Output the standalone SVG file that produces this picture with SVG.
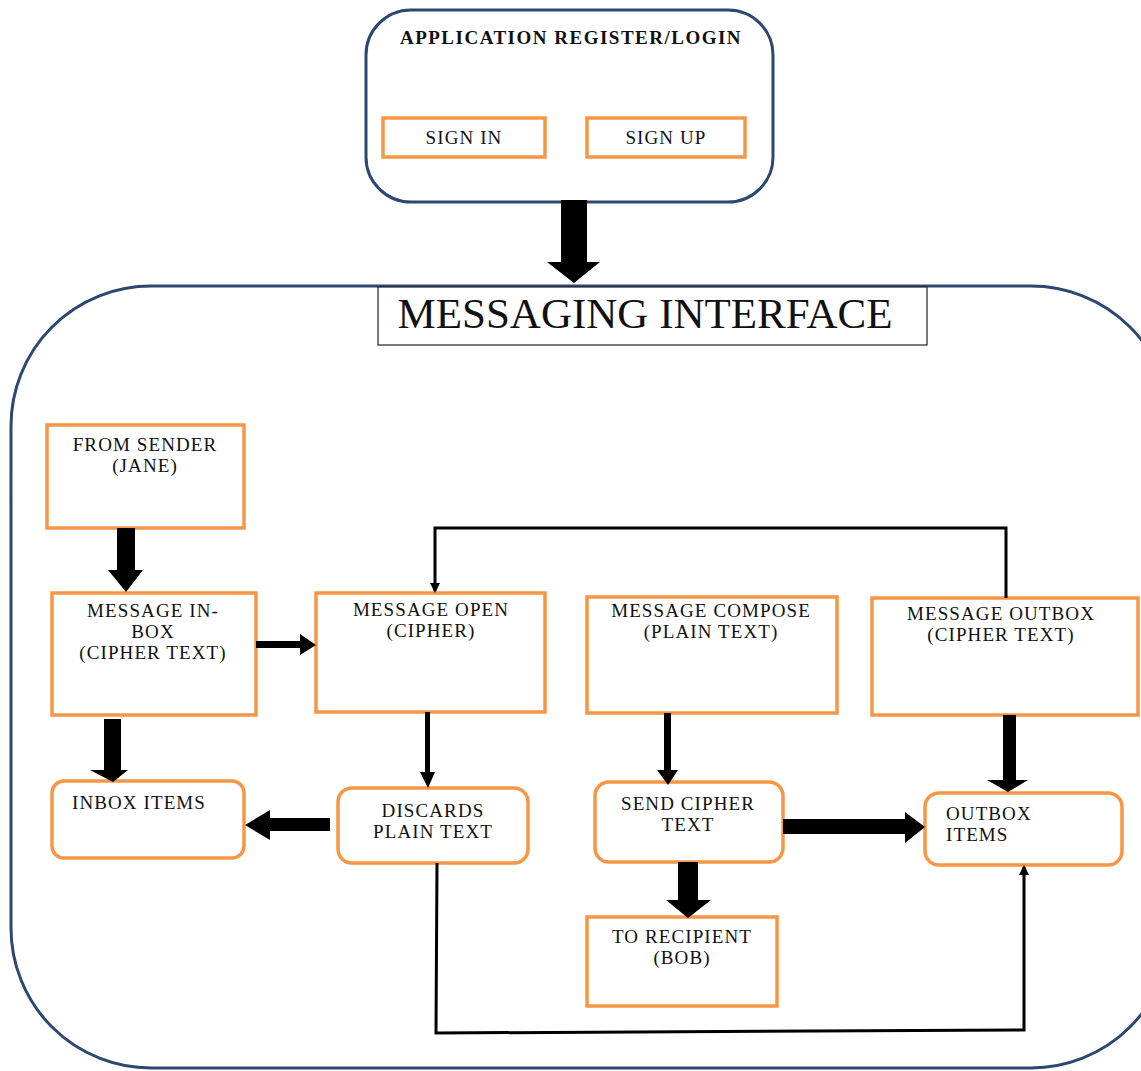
<svg xmlns="http://www.w3.org/2000/svg" width="1141" height="1071" viewBox="0 0 1141 1071">
<style>
.frame{fill:#fff;stroke:#2c4770;stroke-width:3}
.box{fill:#fff;stroke:#f79646;stroke-width:3.5}
.t{font-family:"Liberation Serif","Times New Roman",serif;font-size:19px;letter-spacing:1.1px;fill:#111;text-anchor:middle}
.tl{font-family:"Liberation Serif","Times New Roman",serif;font-size:19px;letter-spacing:1.1px;fill:#111}
.thin{fill:none;stroke:#000;stroke-width:3}
</style>
<defs>
<marker id="ah" markerWidth="10" markerHeight="10" refX="8" refY="5" orient="auto" markerUnits="userSpaceOnUse">
<path d="M0,0 L10,5 L0,10 Z" fill="#000"/>
</marker>
</defs>
<rect width="1141" height="1071" fill="#fff"/>

<g id="messaging-frame">
<rect class="frame" x="11" y="286" width="1160" height="782" rx="140" ry="140"/>
</g>

<g id="login">
<rect class="frame" x="366" y="10" width="407" height="192" rx="45" ry="45"/>
<text x="571" y="44" class="t" font-weight="bold" style="letter-spacing:1.5px">APPLICATION REGISTER/LOGIN</text>
</g>
<g id="signin">
<rect class="box" x="383" y="118" width="162" height="39"/>
<text x="464" y="144" class="t">SIGN IN</text>
</g>
<g id="signup">
<rect class="box" x="587" y="118" width="158" height="39"/>
<text x="666" y="144" class="t">SIGN UP</text>
</g>

<g id="title">
<rect x="378" y="287" width="549" height="58" fill="#fff" stroke="#222" stroke-width="1.2"/>
<text x="645" y="328" class="t" style="font-size:43px;letter-spacing:0">MESSAGING INTERFACE</text>
</g>

<g id="from-sender">
<rect class="box" x="47" y="425" width="197" height="103"/>
<text x="145" y="451" class="t">FROM SENDER</text>
<text x="145" y="472" class="t">(JANE)</text>
</g>
<g id="inbox">
<rect class="box" x="52" y="593" width="204" height="122"/>
<text x="153" y="617" class="t">MESSAGE IN-</text>
<text x="153" y="638" class="t">BOX</text>
<text x="153" y="659" class="t">(CIPHER TEXT)</text>
</g>
<g id="open">
<rect class="box" x="316" y="593" width="229" height="119"/>
<text x="431" y="616" class="t">MESSAGE OPEN</text>
<text x="431" y="637" class="t">(CIPHER)</text>
</g>
<g id="compose">
<rect class="box" x="587" y="597" width="250" height="116"/>
<text x="711" y="617" class="t">MESSAGE COMPOSE</text>
<text x="711" y="638" class="t">(PLAIN TEXT)</text>
</g>
<g id="outbox">
<rect class="box" x="872" y="598" width="266" height="117"/>
<text x="1001" y="620" class="t">MESSAGE OUTBOX</text>
<text x="1001" y="641" class="t">(CIPHER TEXT)</text>
</g>
<g id="inbox-items">
<rect class="box" x="52" y="781" width="192" height="77" rx="12" ry="12"/>
<text x="72" y="809" class="tl">INBOX ITEMS</text>
</g>
<g id="discards">
<rect class="box" x="338" y="788" width="190" height="75" rx="14" ry="14"/>
<text x="433" y="817" class="t">DISCARDS</text>
<text x="433" y="838" class="t">PLAIN TEXT</text>
</g>
<g id="send">
<rect class="box" x="595" y="782" width="188" height="80" rx="14" ry="14"/>
<text x="688" y="810" class="t">SEND CIPHER</text>
<text x="688" y="831" class="t">TEXT</text>
</g>
<g id="outbox-items">
<rect class="box" x="925" y="793" width="197" height="72" rx="14" ry="14"/>
<text x="946" y="820" class="tl">OUTBOX</text>
<text x="946" y="841" class="tl">ITEMS</text>
</g>
<g id="recipient">
<rect class="box" x="587" y="917" width="190" height="89"/>
<text x="682" y="943" class="t">TO RECIPIENT</text>
<text x="682" y="964" class="t">(BOB)</text>
</g>

<g id="connectors" fill="#000">
<polygon points="561,200 587,200 587,262 600,262 574,283 547,262 561,262"/>
<polygon points="117,528 135,528 135,570 143,570 126,592 108,570 117,570"/>
<polygon points="256,641 300,641 300,634 316,645 300,655 300,648 256,648"/>
<polygon points="104,719 121,719 121,770 128,770 113,782 90,770 104,770"/>
<polygon points="425,712 430,712 430,772 435,772 428,788 420,772 425,772"/>
<polygon points="330,818 330,831 270,831 270,840 245,825 270,810 270,818"/>
<polygon points="664,713 671,713 671,770 678,770 668,785 657,770 664,770"/>
<polygon points="783,819 905,819 905,812 925,827 905,843 905,834 783,834"/>
<polygon points="1003,715 1016,715 1016,780 1028,780 1008,792 987,780 1003,780"/>
<polygon points="678,862 698,862 698,900 711,900 688,918 666,900 678,900"/>
<path class="thin" d="M1006,598 L1006,528 L435,528 L435,591" marker-end="url(#ah)"/>
<path class="thin" d="M437,863 L436,1033 L1024,1030 L1024,867" marker-end="url(#ah)"/>
</g>
</svg>
